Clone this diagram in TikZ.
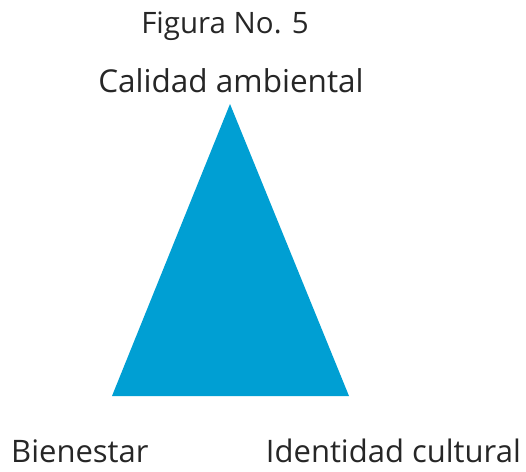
\documentclass[tikz,border=0pt]{standalone}
\usepackage{fontspec}
\setmainfont{Open Sans}
\definecolor{triblue}{HTML}{009FD3}
\begin{document}
\begin{tikzpicture}
  [x=1pt,y=-1pt,every node/.style={inner sep=0pt,text=black!85}]
  \tikzstyle{vertex} = [font=\fontsize{31}{36}\selectfont,anchor=base]
  \tikzstyle{title} = [font=\fontsize{29.5}{34}\selectfont,anchor=base]
  \useasboundingbox (0,0) rectangle (526,471);
  \coordinate (top) at (230,104);
  \coordinate (left) at (112,396);
  \coordinate (right) at (349,396);
  \fill[triblue] (top) -- (left) -- (right) -- cycle;

  \node[title] (fig) at (225,33) {Figura No. 5};
  \node[vertex,font=\fontsize{31.5}{37}\selectfont] (cal) at (231,92) {Calidad ambiental};
  \node[vertex,anchor=base west] (bien) at (11,462) {Bienestar};
  \node[vertex,anchor=base east] (iden) at (521,462) {Identidad cultural};
\end{tikzpicture}
\end{document}
